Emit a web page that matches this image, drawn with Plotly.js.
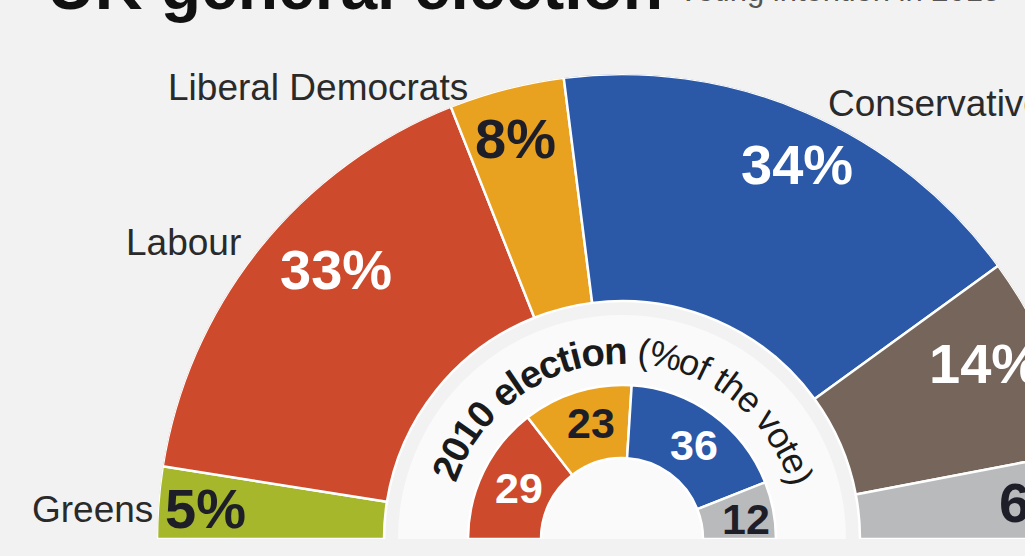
<!DOCTYPE html>
<html><head><meta charset="utf-8">
<script src="https://cdn.plot.ly/plotly-3.0.1.min.js"></script>
<style>
html,body{margin:0;padding:0;overflow:hidden;background:#f2f2f2;width:1025px;height:556px}
#chart{width:1100px;height:556px}
</style>
</head><body><div id="chart"></div>
<script>
// ---------- data ----------
const outerParties = ['Greens','Labour','Liberal Democrats','Conservatives','UKIP','Others'];
const outerShare = [5,33,8,34,14,6];
const innerParties = ['Labour','Liberal Democrats','Conservatives','Others'];
const innerShare = [29,23,36,12];
const nameLabels = ['Greens','Labour','Liberal Democrats','Conservatives'];
const titleText = 'UK general election';
const subtitleText = 'Voting intention in 2015';
const ringTitle = '2010 election';
const ringUnit = '(%of the vote)';

// ---------- styles ----------
const partyColors = {'Greens':'#a6b72b','Labour':'#cd4a2d','Liberal Democrats':'#e9a220',
  'Conservatives':'#2b59a8','UKIP':'#76655a','Others':'#b9babc'};
const labelInk = {'Greens':'#1e1e28','Labour':'#ffffff','Liberal Democrats':'#1e1e28',
  'Conservatives':'#ffffff','UKIP':'#ffffff','Others':'#1e1e28'};
const W = 1100, H = 556, CX = 622, CY = 539, R = 465;
const OUT_IN = 238, IN_IN = 81, IN_OUT = 154, DISC = 224;
const FONT = 'Liberation Sans, Arial, sans-serif';

// label positions (pixels) - layout only
const outerLabelPos = [
  {x:205,y:508,a:'center'},{x:336,y:269,a:'center'},{x:515,y:138,a:'center'},
  {x:797,y:165,a:'center'},{x:927,y:363,a:'left'},{x:997,y:502,a:'left'}];
const innerLabelPos = [{x:519,y:488},{x:591,y:423},{x:694,y:445},{x:746,y:519}];
const namePos = [
  {x:155,y:509,a:'right'},{x:243,y:243,a:'right'},{x:470,y:87,a:'right'},{x:826,y:104,a:'left'}];

const px = x => x / W, py = y => 1 - y / H;

function spans(shares){
  let acc = 0; const th = [], wd = [];
  shares.forEach(s => { const w = s * 1.8; th.push(acc + w/2); wd.push(w); acc += w; });
  return {th, wd};
}
const o = spans(outerShare), i = spans(innerShare);

const traces = [
  {type:'barpolar', r:[DISC], base:[0], theta:[90], width:[180],
   marker:{color:'#fafafa', line:{width:0}}, hoverinfo:'skip'},
  {type:'barpolar', r:outerShare.map(() => R - OUT_IN), base:outerShare.map(() => OUT_IN),
   theta:o.th, width:o.wd,
   marker:{color:outerParties.map(p => partyColors[p]), line:{color:'#ffffff', width:2.5}}, hoverinfo:'skip'},
  {type:'barpolar', r:innerShare.map(() => IN_OUT - IN_IN), base:innerShare.map(() => IN_IN),
   theta:i.th, width:i.wd,
   marker:{color:innerParties.map(p => partyColors[p]), line:{color:'#ffffff', width:2.5}}, hoverinfo:'skip'}
];

const ann = [];
// title & subtitle (mostly cropped at top, as in the reference)
ann.push({text:'<b>'+titleText+'</b>', x:px(45), y:py(9 - 0.35*66), xref:'paper', yref:'paper',
  xanchor:'left', yanchor:'middle', showarrow:false, font:{family:FONT, size:66, color:'#111111'}});
ann.push({text:subtitleText, x:px(676), y:py(1 - 0.35*31), xref:'paper', yref:'paper',
  xanchor:'left', yanchor:'middle', showarrow:false, font:{family:FONT, size:31, color:'#555555'}});

// party names
nameLabels.forEach((n, k) => ann.push({text:n, x:px(namePos[k].x), y:py(namePos[k].y),
  xref:'paper', yref:'paper', xanchor:namePos[k].a, yanchor:'middle', showarrow:false,
  font:{family:FONT, size:37, color:'#2a2a2a'}}));

// outer percentages
outerShare.forEach((s, k) => ann.push({text:'<b>'+s+'%</b>', x:px(outerLabelPos[k].x), y:py(outerLabelPos[k].y),
  xref:'paper', yref:'paper', xanchor:outerLabelPos[k].a, yanchor:'middle', showarrow:false,
  font:{family:FONT, size:56, color:labelInk[outerParties[k]]}}));
// inner values
innerShare.forEach((s, k) => ann.push({text:'<b>'+s+'</b>', x:px(innerLabelPos[k].x), y:py(innerLabelPos[k].y),
  xref:'paper', yref:'paper', xanchor:'center', yanchor:'middle', showarrow:false,
  font:{family:FONT, size:43, color:labelInk[innerParties[k]]}}));

// curved ring caption
const ctx = document.createElement('canvas').getContext('2d');
const segs = [{t:ringTitle + ' ', bold:true, size:34}, {t:ringUnit, bold:false, size:32}];
const chars = [];
segs.forEach(sg => { for (const ch of sg.t) {
  ctx.font = (sg.bold ? 'bold ' : '') + sg.size + 'px "Liberation Sans"';
  chars.push({ch, bold:sg.bold, size:sg.size, w:ctx.measureText(ch).width});
}});
const RR = 189, T0 = 158, T1 = 19;
const arcLen = (T0 - T1) * Math.PI / 180 * RR;
const total = chars.reduce((a, c) => a + c.w, 0);
const k = arcLen / (total - chars[0].w/2 - chars[chars.length-1].w/2);
let s = 0;
chars.forEach(c => {
  const w = c.w * k;
  const sc = s + w/2 - chars[0].w*k/2;
  const th = T0 - sc / RR * 180 / Math.PI;
  s += w;
  if (c.ch === ' ') return;
  const rad = th * Math.PI / 180;
  const x = CX + RR * Math.cos(rad), y = CY - RR * Math.sin(rad);
  ann.push({text: c.bold ? '<b>'+c.ch+'</b>' : c.ch, x:px(x), y:py(y), xref:'paper', yref:'paper',
    xanchor:'center', yanchor:'middle', showarrow:false, textangle: 90 - th, borderpad:0,
    font:{family:FONT, size:c.size * k, color:'#1a1a1a'}});
});

const layout = {
  width:W, height:H, margin:{l:0,r:0,t:0,b:0,pad:0}, autosize:false,
  paper_bgcolor:'#f2f2f2', plot_bgcolor:'#f2f2f2', showlegend:false,
  polar:{
    domain:{x:[(CX-R)/W, (CX+R)/W], y:[(H-CY)/H, (H-CY+R)/H]},
    sector:[0,180], hole:0, bgcolor:'rgba(0,0,0,0)', barmode:'overlay',
    radialaxis:{visible:false, range:[0,R], autorange:false, showgrid:false, showline:false, showticklabels:false, ticks:''},
    angularaxis:{visible:false, rotation:180, direction:'clockwise', thetaunit:'degrees',
      showgrid:false, showline:false, showticklabels:false, ticks:''}
  },
  annotations: ann
};
Plotly.newPlot('chart', traces, layout, {staticPlot:true, displayModeBar:false});
</script>
</body></html>
